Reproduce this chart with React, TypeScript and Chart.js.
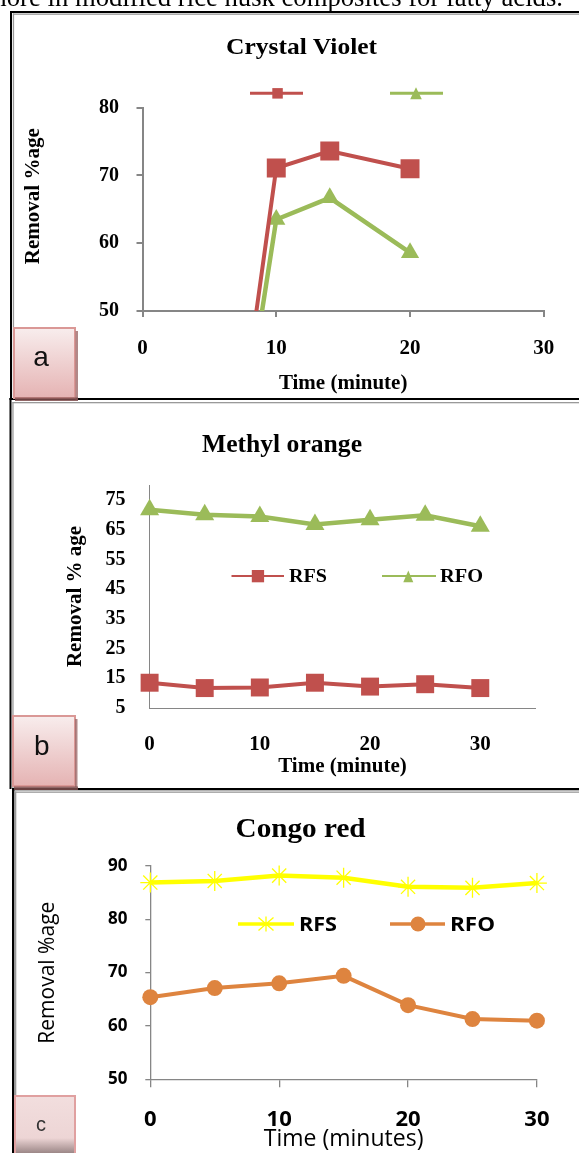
import React, { useEffect, useRef } from "react";
import { Chart, registerables } from "chart.js";

Chart.register(...registerables);

// ---------- data ----------
const TIME_A = [5, 10, 14, 20];
const RFS_A = [0, 71.1, 73.6, 71.0];
const RFO_A = [0, 63.5, 66.7, 58.6];

const TIME_B = [0, 5, 10, 15, 20, 25, 30];
const RFS_B = [13.5, 11.7, 11.9, 13.5, 12.2, 13.0, 11.7];
const RFO_B = [71.7, 70.0, 69.4, 66.7, 68.3, 69.8, 66.1];

const TIME_C = [0, 5, 10, 15, 20, 25, 30];
const RFS_C = [86.9, 87.2, 88.2, 87.8, 86.1, 85.9, 86.8];
const RFO_C = [65.4, 67.1, 68.0, 69.4, 63.9, 61.3, 61.0];

const X_TICKS = [0, 10, 20, 30];
const Y_TICKS_A = [50, 60, 70, 80];
const Y_TICKS_B = [5, 15, 25, 35, 45, 55, 65, 75];
const Y_TICKS_C = [50, 60, 70, 80, 90];

const SERIES = ["RFS", "RFO"];
const TITLES = ["Crystal Violet", "Methyl orange", "Congo red"];
const X_TITLES = ["Time (minute)", "Time (minute)", "Time (minutes)"];
const Y_TITLES = ["     Removal %age", "Removal % age", "Removal %age"];
const PANEL_LETTERS = ["a", "b", "c"];
const TOP_TEXT = "more in modified rice husk composites for fatty acids.";

// ---------- styles ----------
const RED = "#C0504D";
const GREEN = "#9BBB59";
const YELLOW = "#FFFF00";
const ORANGE = "#DE843F";
const AXIS = "#868686";
const SERIF = "'Liberation Serif', 'Times New Roman', serif";
const SANS = "'Open Sans', 'Liberation Sans', sans-serif";
const LSANS = "'Liberation Sans', Arial, sans-serif";

const pts = (xs: number[], ys: number[]) => xs.map((x, i) => ({ x, y: ys[i] }));
const ticksFrom = (vals: number[]) => (axis: any) => {
  axis.ticks = vals.map((v) => ({ value: v }));
};

function xScale(o: any) {
  return {
    type: "linear",
    min: o.min,
    max: o.max,
    afterBuildTicks: ticksFrom(o.ticks),
    afterFit: (s: any) => {
      s.height = o.height;
    },
    border: { display: true, color: AXIS, width: o.lw },
    grid: {
      display: true,
      drawOnChartArea: false,
      drawTicks: o.tickLen > 0,
      tickLength: o.tickLen,
      color: AXIS,
      lineWidth: o.lw,
    },
    ticks: { autoSkip: false, maxRotation: 0, padding: o.pad, color: "#000", font: o.font },
    title: {
      display: true,
      text: o.title,
      color: "#000",
      font: o.titleFont,
      padding: { top: 0, bottom: 0 },
    },
  };
}

function yScale(o: any) {
  return {
    type: "linear",
    min: o.min,
    max: o.max,
    afterBuildTicks: ticksFrom(o.ticks),
    afterFit: (s: any) => {
      s.width = o.width;
    },
    border: { display: true, color: AXIS, width: o.lw },
    grid: {
      display: true,
      drawOnChartArea: false,
      drawTicks: o.tickLen > 0,
      tickLength: o.tickLen,
      color: AXIS,
      lineWidth: o.lw,
    },
    ticks: { autoSkip: false, padding: o.pad, color: "#000", font: o.font },
    title: {
      display: true,
      text: o.title,
      color: "#000",
      font: o.titleFont,
      padding: { top: o.titlePad, bottom: 0 },
    },
  };
}

const baseOptions = (padding: any) => ({
  responsive: false,
  animation: false,
  devicePixelRatio: 1,
  events: [],
  layout: { padding },
  plugins: {
    legend: { display: false },
    tooltip: { enabled: false },
    title: { display: false },
  },
});

function configA() {
  return {
    type: "line",
    data: {
      datasets: [
        {
          label: SERIES[0],
          data: pts(TIME_A, RFS_A),
          borderColor: RED,
          backgroundColor: RED,
          borderWidth: 4,
          pointStyle: "rect",
          pointRadius: 13.4,
          pointBorderWidth: 0,
          clip: 0,
        },
        {
          label: SERIES[1],
          data: pts(TIME_A, RFO_A),
          borderColor: GREEN,
          backgroundColor: GREEN,
          borderWidth: 4.5,
          pointStyle: "triangle",
          pointRadius: 10.5,
          pointBorderWidth: 0,
          clip: 0,
        },
      ],
    },
    options: {
      ...baseOptions({ left: 0, right: 25, top: 93.7, bottom: 0 }),
      scales: {
        x: xScale({
          min: 0, max: 30, ticks: X_TICKS, height: 85, lw: 2, tickLen: 6, pad: 18.7,
          font: { family: SERIF, size: 21, weight: "bold" },
          title: X_TITLES[0], titleFont: { family: SERIF, size: 21, weight: "bold" },
        }),
        y: yScale({
          min: 50, max: 80, ticks: Y_TICKS_A, width: 122.5, lw: 2, tickLen: 6, pad: 17.5,
          font: { family: SERIF, size: 20, weight: "bold" },
          title: Y_TITLES[0], titleFont: { family: SERIF, size: 21, weight: "bold" }, titlePad: 1.4,
        }),
      },
    },
  };
}

function configB() {
  return {
    type: "line",
    data: {
      datasets: [
        {
          label: SERIES[0],
          data: pts(TIME_B, RFS_B),
          borderColor: RED,
          backgroundColor: RED,
          borderWidth: 4,
          pointStyle: "rect",
          pointRadius: 12.7,
          pointBorderWidth: 0,
          clip: false,
        },
        {
          label: SERIES[1],
          data: pts(TIME_B, RFO_B),
          borderColor: GREEN,
          backgroundColor: GREEN,
          borderWidth: 4.5,
          pointStyle: "triangle",
          pointRadius: 11,
          pointBorderWidth: 0,
          clip: false,
        },
      ],
    },
    options: {
      ...baseOptions({ left: 0, right: 24.6, top: 82, bottom: 0 }),
      scales: {
        x: xScale({
          min: 0, max: 35, ticks: X_TICKS, height: 71, lw: 1, tickLen: 0, pad: 23.8,
          font: { family: SERIF, size: 21, weight: "bold" },
          title: X_TITLES[1], titleFont: { family: SERIF, size: 21, weight: "bold" },
        }),
        y: yScale({
          min: 5, max: 80, ticks: Y_TICKS_B, width: 87.6, lw: 1, tickLen: 0, pad: 24,
          font: { family: SERIF, size: 20, weight: "bold" },
          title: Y_TITLES[1], titleFont: { family: SERIF, size: 21, weight: "bold" }, titlePad: 1.4,
        }),
      },
    },
  };
}

function configC() {
  return {
    type: "line",
    data: {
      datasets: [
        {
          label: SERIES[0],
          data: pts(TIME_C, RFS_C),
          borderColor: YELLOW,
          backgroundColor: YELLOW,
          borderWidth: 4.5,
          pointStyle: "star",
          pointRadius: 10,
          pointBorderWidth: 1.3,
          pointBorderColor: YELLOW,
          clip: false,
        },
        {
          label: SERIES[1],
          data: pts(TIME_C, RFO_C),
          borderColor: ORANGE,
          backgroundColor: ORANGE,
          borderWidth: 4,
          pointStyle: "circle",
          pointRadius: 8,
          pointBorderWidth: 0,
          clip: false,
        },
      ],
    },
    options: {
      ...baseOptions({ left: 0, right: 25, top: 73, bottom: 0 }),
      scales: {
        x: xScale({
          min: 0, max: 30, ticks: X_TICKS, height: 73.7, lw: 1.3, tickLen: 8, pad: 19.5,
          font: { family: SANS, size: 22, weight: "bold" },
          title: X_TITLES[2], titleFont: { family: SANS, size: 23, weight: "normal" },
        }),
        y: yScale({
          min: 50, max: 90, ticks: Y_TICKS_C, width: 117.3, lw: 1.3, tickLen: 5, pad: 17.9,
          font: { family: SANS, size: 17, weight: "bold" },
          title: Y_TITLES[2], titleFont: { family: SANS, size: 21, weight: "normal" }, titlePad: 2.4,
        }),
      },
    },
  };
}

function ChartBox({ left, top, width, height, make }: any) {
  const ref = useRef<HTMLCanvasElement | null>(null);
  useEffect(() => {
    const chart = new Chart(ref.current as HTMLCanvasElement, make() as any);
    return () => chart.destroy();
  }, []);
  return (
    <canvas
      ref={ref}
      width={width}
      height={height}
      style={{ position: "absolute", left, top, width, height }}
    />
  );
}

function Overlay() {
  return (
    <svg
      width={579}
      height={1153}
      style={{ position: "absolute", left: 0, top: 0, pointerEvents: "none" }}
    >
      <defs>
        <linearGradient id="pinkBox" x1="0" y1="0" x2="0" y2="1">
          <stop offset="0" stopColor="#F8EDED" />
          <stop offset="1" stopColor="#E5B3B3" />
        </linearGradient>
        <linearGradient id="pinkBoxC" x1="0" y1="0" x2="0" y2="1">
          <stop offset="0" stopColor="#F2DEDE" />
          <stop offset="0.7" stopColor="#EDD5D5" />
          <stop offset="1" stopColor="#8C7878" />
        </linearGradient>
      </defs>

      {/* running text above the figure */}
      <text x={-14} y={6} fontFamily={SERIF} fontSize={26.5} textLength={577} lengthAdjust="spacingAndGlyphs">
        {TOP_TEXT}
      </text>

      {/* panel frames */}
      <rect x={10} y={11} width={569} height={2} fill="#000" />
      <rect x={10} y={11} width={2} height={388} fill="#000" />
      <rect x={13} y={13.5} width={566} height={1.3} fill="#9A9A9A" />
      <rect x={12.8} y={13.5} width={1.3} height={385} fill="#9A9A9A" />

      <rect x={9.5} y={398} width={570} height={2} fill="#000" />
      <rect x={9.5} y={398} width={2} height={391} fill="#000" />
      <rect x={12.5} y={402} width={567} height={1.3} fill="#9A9A9A" />
      <rect x={12.3} y={402} width={1.3} height={387} fill="#9A9A9A" />

      <rect x={12} y={788} width={567} height={2.3} fill="#000" />
      <rect x={12} y={788} width={2.4} height={365} fill="#000" />
      <rect x={15} y={791.5} width={564} height={1.3} fill="#9A9A9A" />
      <rect x={15} y={791.5} width={1.3} height={362} fill="#9A9A9A" />

      {/* titles */}
      <text x={301.6} y={54.3} textAnchor="middle" fontFamily={SERIF} fontWeight="bold" fontSize={23} textLength={151} lengthAdjust="spacingAndGlyphs">
        {TITLES[0]}
      </text>
      <text x={282} y={451.7} textAnchor="middle" fontFamily={SERIF} fontWeight="bold" fontSize={25} textLength={160} lengthAdjust="spacingAndGlyphs">
        {TITLES[1]}
      </text>
      <text x={300.6} y={837.3} textAnchor="middle" fontFamily={SERIF} fontWeight="bold" fontSize={27.5} textLength={130} lengthAdjust="spacingAndGlyphs">
        {TITLES[2]}
      </text>

      {/* legend a (labels white as in the reference) */}
      <line x1={250} y1={93.3} x2={303} y2={93.3} stroke={RED} strokeWidth={3} />
      <rect x={272.3} y={88.1} width={10.5} height={10.5} fill={RED} />
      <text x={307} y={99} fontFamily={SERIF} fontWeight="bold" fontSize={18} fill="#FFFFFF">{SERIES[0]}</text>
      <line x1={390} y1={93.3} x2={443} y2={93.3} stroke={GREEN} strokeWidth={3} />
      <polygon points="416,87.3 410.2,99.3 421.8,99.3" fill={GREEN} />
      <text x={447} y={99} fontFamily={SERIF} fontWeight="bold" fontSize={18} fill="#FFFFFF">{SERIES[1]}</text>

      {/* legend b */}
      <line x1={231.5} y1={576} x2={284} y2={576} stroke={RED} strokeWidth={2.2} />
      <rect x={251.8} y={570} width={12.3} height={12.3} fill={RED} />
      <text x={289} y={582} fontFamily={SERIF} fontWeight="bold" fontSize={18.5} textLength={38} lengthAdjust="spacingAndGlyphs">{SERIES[0]}</text>
      <line x1={382} y1={576} x2={436} y2={576} stroke={GREEN} strokeWidth={2.2} />
      <polygon points="408.3,570.5 403.3,582.3 413.3,582.3" fill={GREEN} />
      <text x={440} y={582} fontFamily={SERIF} fontWeight="bold" fontSize={18.5} textLength={43} lengthAdjust="spacingAndGlyphs">{SERIES[1]}</text>

      {/* legend c */}
      <line x1={238} y1={924} x2={294} y2={924} stroke={YELLOW} strokeWidth={3.5} />
      <g stroke={YELLOW} strokeWidth={1.3}>
        <line x1={266} y1={916.5} x2={266} y2={931.5} />
        <line x1={258.5} y1={917.5} x2={273.5} y2={930.5} />
        <line x1={273.5} y1={917.5} x2={258.5} y2={930.5} />
      </g>
      <text x={299} y={930.7} fontFamily={SANS} fontWeight="bold" fontSize={19} textLength={38} lengthAdjust="spacingAndGlyphs">{SERIES[0]}</text>
      <line x1={390} y1={924} x2={445} y2={924} stroke={ORANGE} strokeWidth={3.5} />
      <circle cx={418} cy={924} r={7.5} fill={ORANGE} />
      <text x={450} y={930.7} fontFamily={SANS} fontWeight="bold" fontSize={19} textLength={45} lengthAdjust="spacingAndGlyphs">{SERIES[1]}</text>

      {/* panel letter boxes */}
      <rect x={14} y={328} width={61} height={70} fill="url(#pinkBox)" stroke="#DA9896" strokeWidth={2} />
      <rect x={75.5} y={331} width={2.5} height={69} fill="#9C6A6A" opacity={0.8} />
      <rect x={15} y={397.5} width={63} height={3.5} fill="#7E4C4C" opacity={0.85} />
      <text x={41} y={366} textAnchor="middle" fontFamily={LSANS} fontSize={28} fill="#111">{PANEL_LETTERS[0]}</text>

      <rect x={13} y={716} width={62} height={70} fill="url(#pinkBox)" stroke="#DA9896" strokeWidth={2} />
      <rect x={75} y={719} width={2.5} height={68} fill="#9C6A6A" opacity={0.8} />
      <rect x={14} y={786.5} width={64} height={3.5} fill="#7E4C4C" opacity={0.85} />
      <text x={41.7} y={755} textAnchor="middle" fontFamily={LSANS} fontSize={28} fill="#111">{PANEL_LETTERS[1]}</text>

      <rect x={15} y={1096} width={60} height={60} fill="url(#pinkBoxC)" stroke="#E0A0A0" strokeWidth={2} />
      <text x={41} y={1130.7} textAnchor="middle" fontFamily={LSANS} fontSize={20} fill="#333">{PANEL_LETTERS[2]}</text>
    </svg>
  );
}

export default function App() {
  return (
    <div
      style={{
        position: "absolute",
        left: 0,
        top: 0,
        width: 579,
        height: 1153,
        overflow: "hidden",
        background: "#fff",
      }}
    >
      <ChartBox left={20} top={14} width={553} height={382} make={configA} />
      <ChartBox left={62} top={403} width={498} height={376} make={configB} />
      <ChartBox left={33} top={793} width={536} height={360} make={configC} />
      <Overlay />
    </div>
  );
}
